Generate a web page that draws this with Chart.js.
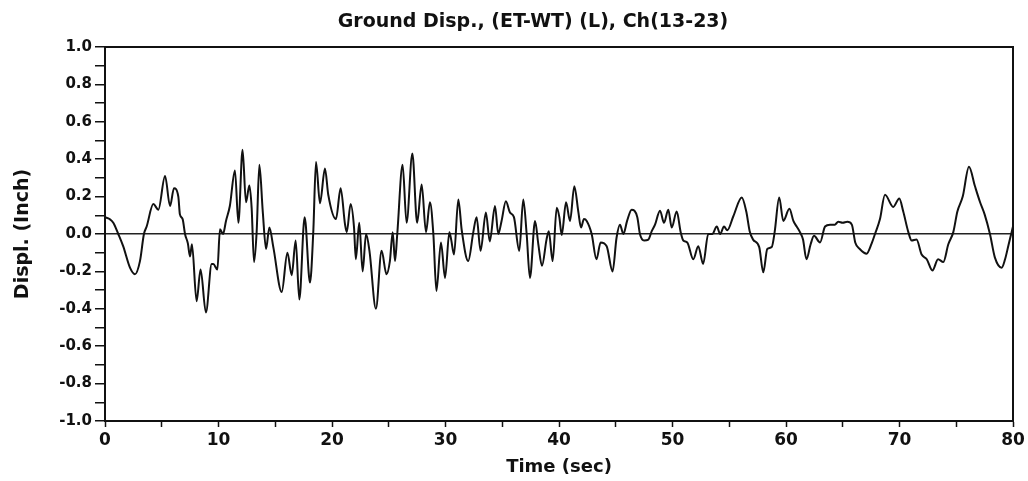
<!DOCTYPE html>
<html>
<head>
<meta charset="utf-8">
<script src="https://cdn.jsdelivr.net/npm/chart.js@4.4.1/dist/chart.umd.min.js"></script>
<style>
  html, body { margin: 0; padding: 0; background: #ffffff; }
  #wrap { width: 1028px; height: 481px; }
</style>
</head>
<body>
<div id="wrap"><canvas id="c" width="1028" height="481"></canvas></div>
<script>
const chartTitle = "Ground Disp., (ET-WT) (L), Ch(13-23)";
const xTitle = "Time (sec)";
const yTitle = "Displ. (Inch)";

const timeSec = [
  0.0, 0.4, 0.73, 1.17, 1.6, 2.2, 2.64, 3.08, 3.43, 3.67, 4.26, 4.7, 5.29, 5.73, 6.08, 6.46, 6.6, 6.84,
  7.05, 7.3, 7.49, 7.66, 8.07, 8.42, 8.89, 9.4, 9.54, 9.9, 10.13, 10.4, 10.66, 11.0, 11.45, 11.75,
  12.12, 12.42, 12.72, 12.92, 13.13, 13.36, 13.6, 13.9, 14.19, 14.48, 14.83, 15.57, 16.07, 16.45,
  16.8, 17.12, 17.59, 18.06, 18.35, 18.59, 18.94, 19.38, 19.67, 20.35, 20.76, 21.15, 21.3, 21.64,
  21.94, 22.1, 22.4, 22.7, 23.0, 23.3, 23.87, 24.37, 24.8, 25.1, 25.35, 25.55, 25.75, 26.22, 26.57,
  27.08, 27.5, 27.9, 28.28, 28.63, 28.93, 29.2, 29.6, 29.96, 30.34, 30.5, 30.75, 31.13, 31.43, 32.0,
  32.45, 32.74, 33.09, 33.56, 33.9, 34.36, 34.65, 34.94, 35.32, 35.68, 36.03, 36.5, 36.85, 37.15,
  37.44, 37.89, 38.18, 38.5, 38.9, 39.1, 39.44, 39.8, 40.03, 40.24, 40.62, 40.97, 41.35, 41.7, 41.94,
  42.2, 42.44, 42.88, 43.3, 43.67, 44.2, 44.72, 45.07, 45.37, 45.67, 46.0, 46.4, 46.9, 47.13, 47.5,
  47.87, 48.17, 48.46, 48.9, 49.25, 49.63, 49.93, 50.37, 50.72, 50.95, 51.3, 51.83, 52.27, 52.7,
  53.15, 53.5, 53.9, 54.2, 54.54, 54.83, 55.36, 56.1, 56.5, 56.8, 57.1, 57.64, 58.0, 58.35, 58.74,
  59.0, 59.4, 59.76, 60.3, 60.65, 60.94, 61.23, 61.5, 61.8, 62.17, 62.47, 63.0, 63.44, 63.88, 64.3,
  64.6, 65.0, 65.4, 65.8, 66.1, 66.5, 67.1, 67.55, 67.84, 68.28, 68.72, 69.45, 69.98, 70.33, 70.78,
  71.07, 71.5, 71.95, 72.4, 72.9, 73.4, 73.86, 74.3, 74.74, 75.1, 75.57, 76.12, 76.65, 77.1, 77.5,
  77.97, 78.4, 79.0, 79.3, 79.6, 79.9, 80.0
];
const displInch = [
  0.09, 0.08, 0.06, 0.0, -0.065, -0.18, -0.215, -0.145, 0.0, 0.04, 0.16, 0.13, 0.31, 0.15, 0.245, 0.2, 0.105, 0.08,
  0.0, -0.05, -0.12, -0.055, -0.36, -0.19, -0.42, -0.16, -0.16, -0.19, 0.025, 0.0, 0.07, 0.15, 0.34, 0.06,
  0.45, 0.17, 0.26, 0.14, -0.15, 0.01, 0.37, 0.12, -0.08, 0.035, -0.07, -0.31, -0.1, -0.22,
  -0.035, -0.35, 0.09, -0.26, 0.01, 0.385, 0.165, 0.35, 0.21, 0.08, 0.245, 0.05, 0.01, 0.16,
  0.035, -0.135, 0.06, -0.2, 0.0, -0.09, -0.40, -0.09, -0.215, -0.145, 0.01, -0.145, 0.0, 0.37, 0.06,
  0.43, 0.06, 0.265, 0.01, 0.17, 0.0, -0.305, -0.045, -0.235, 0.01, -0.03, -0.11, 0.185, 0.02, -0.145,
  0.01, 0.09, -0.09, 0.115, -0.04, 0.15, 0.0, 0.07, 0.175, 0.115, 0.09, -0.09, 0.185, 0.0,
  -0.235, 0.07, -0.055, -0.17, -0.03, 0.015, -0.145, 0.14, 0.09, -0.005, 0.17, 0.07, 0.255, 0.12, 0.035,
  0.08, 0.07, 0.0, -0.135, -0.045, -0.065, -0.2, -0.02, 0.05, 0.0, 0.07, 0.13, 0.09, 0.0, -0.035,
  -0.03, 0.015, 0.05, 0.125, 0.06, 0.13, 0.035, 0.12, 0.01, -0.035, -0.045, -0.135, -0.065, -0.16,
  0.0, 0.0, 0.04, 0.0, 0.04, 0.02, 0.095, 0.195, 0.12, 0.015, -0.03, -0.07, -0.205, -0.08, -0.07,
  0.01, 0.195, 0.07, 0.135, 0.07, 0.04, 0.01, -0.03, -0.135, -0.055, -0.01, -0.045, 0.04, 0.05, 0.05,
  0.065, 0.06, 0.065, 0.05, -0.045, -0.08, -0.105, -0.05, 0.0, 0.08, 0.21, 0.145, 0.19, 0.12, 0.01,
  -0.035, -0.03, -0.11, -0.135, -0.195, -0.135, -0.15, -0.055, 0.01, 0.12, 0.2, 0.36, 0.255, 0.17, 0.105,
  0.0, -0.125, -0.18, -0.135, -0.06, 0.015, 0.04
];

const xMin = 0, xMax = 80, xStep = 5, xLabelEvery = 10;
const yMin = -1.0, yMax = 1.0, yStep = 0.1;

const points = timeSec.map((t, i) => ({ x: t, y: displInch[i] }));
const FONT = "'DejaVu Sans', 'Liberation Sans', sans-serif";
const INK = '#111111';

const framePlugin = {
  id: 'frame',
  afterDraw(chart) {
    const { ctx, chartArea: a } = chart;
    ctx.save();
    ctx.strokeStyle = INK;
    ctx.lineWidth = 2;
    ctx.strokeRect(a.left, a.top, a.right - a.left, a.bottom - a.top);
    ctx.restore();
  }
};

const titlePlugin = {
  id: 'refTitle',
  afterDraw(chart) {
    const ctx = chart.ctx;
    ctx.save();
    ctx.fillStyle = INK;
    ctx.font = "bold 19px " + FONT;
    ctx.textAlign = 'center';
    ctx.textBaseline = 'middle';
    ctx.fillText(chartTitle, 533, 22);
    ctx.restore();
  }
};

new Chart(document.getElementById('c'), {
  type: 'line',
  data: {
    datasets: [{
      data: points,
      borderColor: INK,
      borderWidth: 2,
      pointRadius: 0,
      fill: false,
      cubicInterpolationMode: 'monotone'
    }]
  },
  options: {
    responsive: false,
    animation: false,
    devicePixelRatio: 1,
    layout: { padding: { top: 47, right: 15, bottom: 0, left: 0 } },
    plugins: { legend: { display: false }, title: { display: false }, tooltip: { enabled: false } },
    scales: {
      x: {
        type: 'linear',
        min: xMin, max: xMax,
        afterFit(scale) { scale.height = 60; },
        border: { display: true, color: INK, width: 2 },
        grid: { drawOnChartArea: false, drawTicks: true, tickLength: 6, tickColor: INK, tickWidth: 1.5 },
        ticks: {
          stepSize: xStep,
          autoSkip: false,
          maxRotation: 0,
          padding: 3,
          color: INK,
          font: { family: FONT, size: 17, weight: 'bold' },
          callback: (v) => (Math.round(v) % xLabelEvery === 0 ? String(Math.round(v)) : '')
        },
        title: {
          display: true, text: xTitle, color: INK,
          font: { family: FONT, size: 18, weight: 'bold' },
          padding: { top: 0, bottom: 3 }
        }
      },
      y: {
        type: 'linear',
        min: yMin, max: yMax,
        afterFit(scale) { scale.width = 105; },
        border: { display: true, color: INK, width: 2 },
        grid: {
          drawOnChartArea: true,
          drawTicks: true,
          tickLength: 10,
          tickColor: INK,
          tickWidth: 1.5,
          lineWidth: 1.5,
          color: (c) => (c.tick && Math.abs(c.tick.value) < 1e-9 ? '#222222' : 'rgba(0,0,0,0)')
        },
        ticks: {
          stepSize: yStep,
          autoSkip: false,
          padding: 3,
          color: INK,
          font: { family: FONT, size: 15, weight: 'bold' },
          callback: (v) => {
            const k = Math.round(v * 10);
            return k % 2 === 0 ? (k / 10).toFixed(1) : '';
          }
        },
        title: {
          display: true, text: yTitle, color: INK,
          font: { family: FONT, size: 19, weight: 'bold' },
          padding: { top: 12, bottom: 0 }
        }
      }
    }
  },
  plugins: [framePlugin, titlePlugin]
});
</script>
</body>
</html>
